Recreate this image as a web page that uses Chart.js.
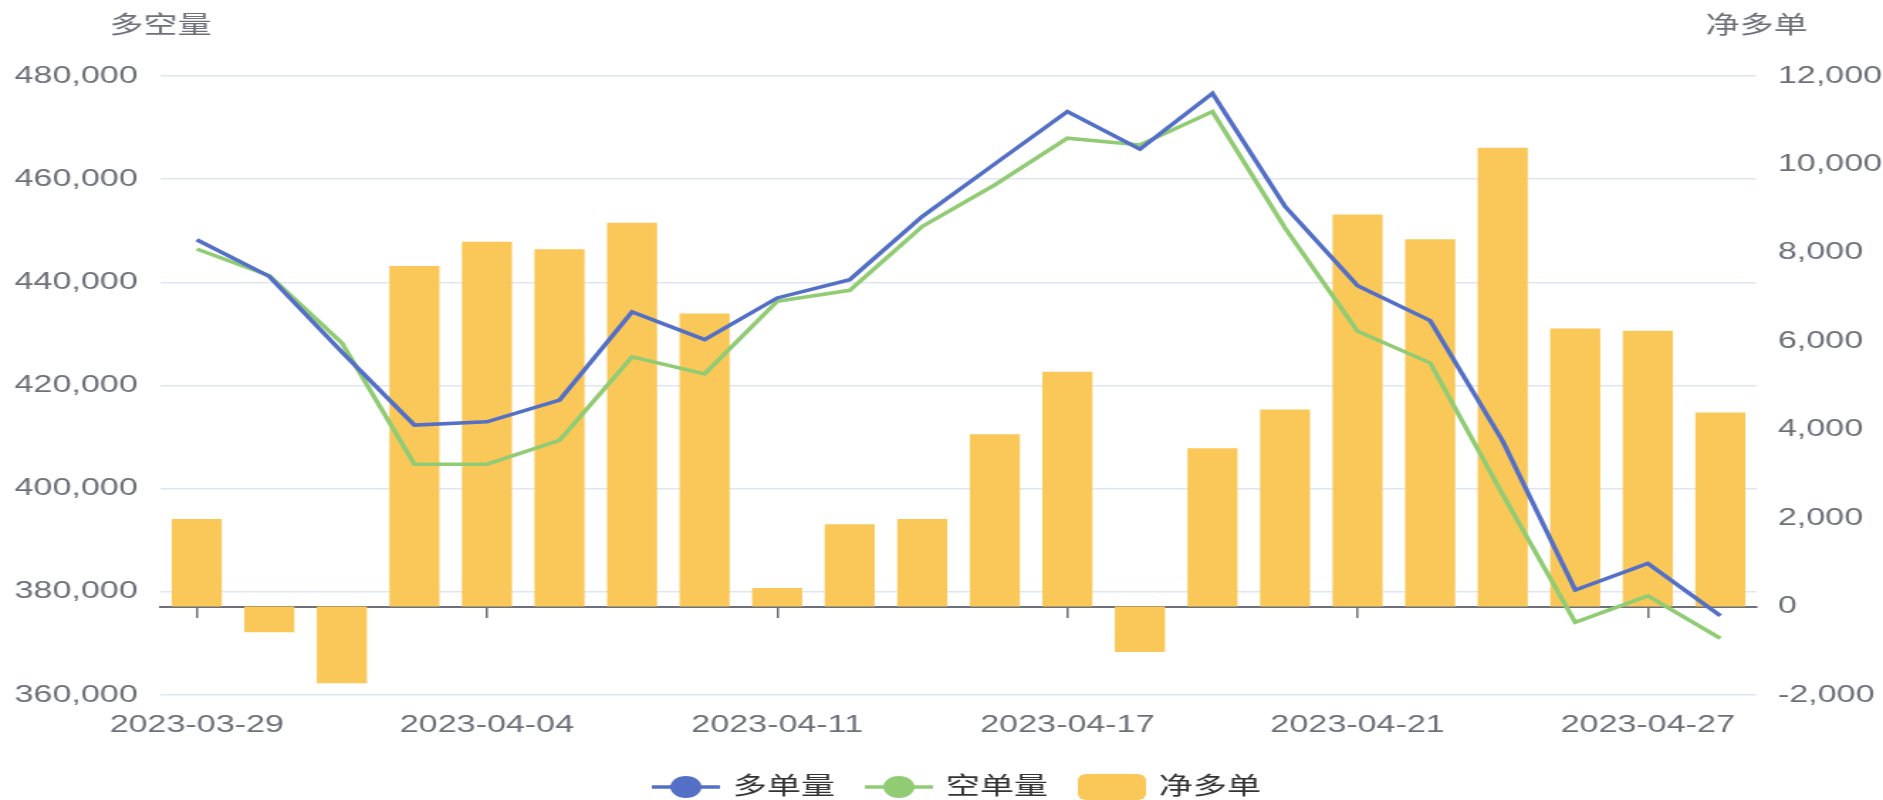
<!DOCTYPE html>
<html>
<head>
<meta charset="utf-8">
<title>多空量</title>
<script src="https://cdn.jsdelivr.net/npm/chart.js@4.4.1/dist/chart.umd.min.js"></script>
<style>
    html, body { margin: 0; padding: 0; background: #fff; overflow: hidden; }
    #wrap { width: 1883px; height: 800px; overflow: hidden; }
    /* the reference is a horizontally stretched chart, so draw narrow and stretch */
    #chart { display: block; transform: scaleX(1.42006); transform-origin: 0 0; }
</style>
</head>
<body>
<div id="wrap"><canvas id="chart" width="1326" height="800"></canvas></div>
<script>
// --- Data ---
const dates = ['2023-03-29', '2023-03-30', '2023-03-31', '2023-04-03', '2023-04-04', '2023-04-06',
    '2023-04-07', '2023-04-10', '2023-04-11', '2023-04-12', '2023-04-13', '2023-04-14', '2023-04-17',
    '2023-04-18', '2023-04-19', '2023-04-20', '2023-04-21', '2023-04-24', '2023-04-25', '2023-04-26',
    '2023-04-27', '2023-04-28'];
const longVol = [448260, 441150, 426500, 412320, 412970, 417150, 434260, 428900, 436970, 440520, 452770,
    462970, 473090, 465810, 476650, 454700, 439350, 432580, 409220, 380360, 385490, 375350];
const shortVol = [446460, 441290, 428260, 404750, 404750, 409350, 425550, 422260, 436320, 438450, 450830,
    458900, 467940, 466650, 473090, 450520, 430510, 424390, 398900, 374070, 379220, 370970];
const netLong = [1980, -580, -1735, 7700, 8250, 8080, 8680, 6630, 420, 1860, 1980, 3900, 5310, -1030,
    3580, 4460, 8870, 8310, 10380, 6290, 6240, 4390];
const seriesNames = ['多单量', '空单量', '净多单'];
const leftAxisName = '多空量';
const rightAxisName = '净多单';
const leftRange = [360000, 480000, 20000];
const rightRange = [-2000, 12000, 2000];
const labelEvery = 4;

const BLUE = '#5470C6';
const GREEN = '#91CC75';
const YELLOW = '#FAC858';
const AXIS = '#6E7079';
const FONT = '"Liberation Sans", "Noto Sans CJK SC", sans-serif';

Chart.defaults.font.family = FONT;
Chart.defaults.font.size = 24;
Chart.defaults.color = AXIS;

// --- Legend icons ---
function lineIcon(color) {
    const c = document.createElement('canvas');
    c.width = 48; c.height = 26;
    const g = c.getContext('2d');
    g.strokeStyle = color;
    g.lineWidth = 3.5;
    g.beginPath(); g.moveTo(0, 13); g.lineTo(48, 13); g.stroke();
    g.fillStyle = color;
    g.beginPath(); g.arc(24, 13, 11, 0, Math.PI * 2); g.fill();
    return c;
}
function barIcon(color) {
    const c = document.createElement('canvas');
    c.width = 48; c.height = 26;
    const g = c.getContext('2d');
    g.fillStyle = color;
    g.beginPath(); g.roundRect(0, 0, 48, 26, 6); g.fill();
    return c;
}
const icons = [lineIcon(BLUE), lineIcon(GREEN), barIcon(YELLOW)];

// --- Axis names above the y axes ---
const axisNames = {
    id: 'axisNames',
    afterDraw(chart) {
        const { ctx, chartArea } = chart;
        ctx.save();
        ctx.font = '24px ' + FONT;
        ctx.fillStyle = AXIS;
        ctx.textAlign = 'center';
        ctx.textBaseline = 'middle';
        ctx.fillText(leftAxisName, chartArea.left, 26);
        ctx.fillText(rightAxisName, chartArea.right, 26);
        ctx.restore();
    }
};

new Chart(document.getElementById('chart'), {
    type: 'bar',
    data: {
        labels: dates,
        datasets: [
            { type: 'line', label: seriesNames[0], data: longVol, yAxisID: 'y', order: 0,
              borderColor: BLUE, backgroundColor: BLUE, borderWidth: 3.5, pointRadius: 0, tension: 0 },
            { type: 'line', label: seriesNames[1], data: shortVol, yAxisID: 'y', order: 1,
              borderColor: GREEN, backgroundColor: GREEN, borderWidth: 3.5, pointRadius: 0, tension: 0 },
            { type: 'bar', label: seriesNames[2], data: netLong, yAxisID: 'y1', order: 2,
              backgroundColor: YELLOW, barPercentage: 0.69, categoryPercentage: 1.0 }
        ]
    },
    options: {
        responsive: false,
        animation: false,
        devicePixelRatio: 1,
        locale: 'en-US',
        layout: { padding: { top: 76, bottom: -9, left: 0, right: 0 } },
        plugins: {
            tooltip: { enabled: false },
            legend: {
                position: 'bottom',
                fullSize: false,
                labels: {
                    usePointStyle: true,
                    pointStyleWidth: 42,
                    padding: 24,
                    color: '#333',
                    font: { size: 24 },
                    generateLabels: chart => chart.data.datasets.map((ds, i) => ({
                        text: ds.label,
                        pointStyle: icons[i],
                        datasetIndex: i,
                        hidden: !chart.isDatasetVisible(i),
                        fillStyle: ds.backgroundColor,
                        strokeStyle: ds.backgroundColor,
                        lineWidth: 0,
                        fontColor: '#333'
                    }))
                }
            }
        },
        scales: {
            x: {
                type: 'category',
                position: 'bottom',
                offset: true,
                grid: { display: false, drawTicks: false },
                border: { display: false },
                ticks: {
                    autoSkip: false,
                    maxRotation: 0,
                    padding: 16,
                    callback: function (v, i) { return i % labelEvery === 0 ? this.getLabelForValue(v) : ''; }
                },
                afterFit: s => { s.height = 56; }
            },
            // axis line sitting on the zero of the right axis, ticks on labelled dates only
            xLine: {
                type: 'category',
                position: { y1: 0 },
                offset: true,
                z: 1,
                grid: {
                    drawOnChartArea: false,
                    offset: false,
                    tickLength: 10,
                    lineWidth: 1.5,
                    color: c => c.index % labelEvery === 0 ? AXIS : 'rgba(0,0,0,0)'
                },
                border: { display: true, color: AXIS, width: 2 },
                ticks: { display: false, autoSkip: false }
            },
            y: {
                position: 'left',
                min: leftRange[0],
                max: leftRange[1],
                ticks: { stepSize: leftRange[2], padding: 16 },
                grid: { color: '#E0E6F1', lineWidth: 1.5, drawTicks: false },
                border: { display: false },
                afterFit: s => { s.width = 113; }
            },
            y1: {
                position: 'right',
                min: rightRange[0],
                max: rightRange[1],
                ticks: { stepSize: rightRange[2], padding: 15 },
                grid: { display: false, drawTicks: false },
                border: { display: false },
                afterFit: s => { s.width = 89; }
            }
        }
    },
    plugins: [axisNames]
});
</script>
</body>
</html>
